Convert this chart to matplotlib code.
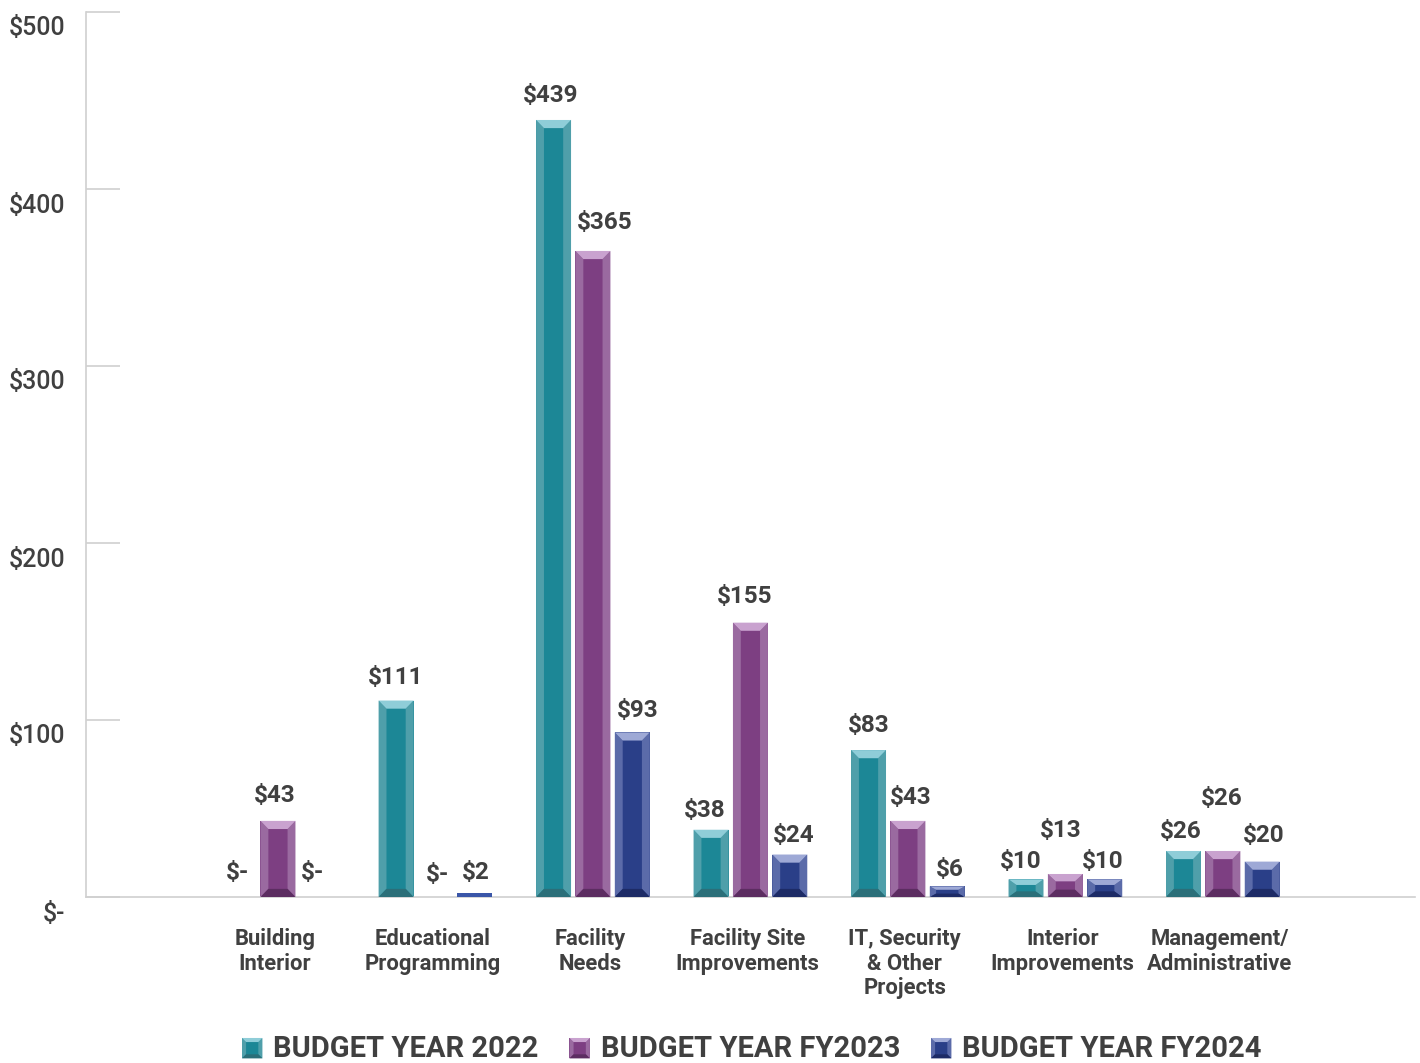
import numpy as np
import matplotlib
matplotlib.use('Agg')
import matplotlib.pyplot as plt
from matplotlib.patches import Polygon, Rectangle
from matplotlib.legend_handler import HandlerBase
from matplotlib.transforms import ScaledTranslation

plt.rcParams['font.family'] = ['Roboto', 'DejaVu Sans']

# data (millions)
categories = ["Building\nInterior", "Educational\nProgramming", "Facility\nNeeds",
              "Facility Site\nImprovements", "IT, Security\n& Other\nProjects",
              "Interior\nImprovements", "Management/\nAdministrative"]
series_names = ["BUDGET YEAR 2022", "BUDGET YEAR FY2023", "BUDGET YEAR FY2024"]
budget_2022 = [0, 111, 439, 38, 83, 10, 26]
budget_fy2023 = [43, 0, 365, 155, 43, 13, 26]
budget_fy2024 = [0, 2, 93, 24, 6, 10, 20]
y_ticks = [0, 100, 200, 300, 400, 500]
y_ticklabels = ["$-", "$100", "$200", "$300", "$400", "$500"]

# label nudges in pixels (dx, dy above bar top), per series
label_nudge = [
    [(-1, 27), (0, 25), (-3, 26), (-6, 21), (0, 27), (-5, 20), (-3, 21)],
    [(-3, 27), (2, 24), (12, 30), (-6, 28), (3, 25), (-5, 45), (-1, 54)],
    [(-5, 27), (1, 23), (5, 24), (4, 21), (3, 19), (-2, 20), (1, 28)],
]

# face, left/right side, top, bottom
palettes = [
    dict(face='#1c8796', side='#4f9faa', top='#8fcdd8', bottom='#2b6f79'),
    dict(face='#7d3f82', side='#9a6aa0', top='#c9a2cf', bottom='#5c2d61'),
    dict(face='#2a3f88', side='#5b6ba9', top='#9ea9d6', bottom='#1d2b66'),
]
text_color = '#404040'
axis_color = '#d0d0d0'


def draw_bevel(ax, x0, y0, w, h, pal, bx, by_max):
    if h <= 0:
        return
    x1, y1 = x0 + w, y0 + h
    if h < 2.5:
        ax.add_patch(Rectangle((x0, y0), w, h, color='#3a56a8', lw=0, zorder=3))
        return
    by = min(by_max, h * 0.32)
    bxx = bx if h >= 2 * by_max else bx * 0.8
    ix0, ix1, iy0, iy1 = x0 + bxx, x1 - bxx, y0 + by, y1 - by
    polys = [
        ([(x0, y0), (ix0, iy0), (ix0, iy1), (x0, y1)], pal['side']),
        ([(x1, y0), (x1, y1), (ix1, iy1), (ix1, iy0)], pal['side']),
        ([(x0, y1), (x1, y1), (ix1, iy1), (ix0, iy1)], pal['top']),
        ([(x0, y0), (x1, y0), (ix1, iy0), (ix0, iy0)], pal['bottom']),
    ]
    for pts, c in polys:
        ax.add_patch(Polygon(pts, closed=True, facecolor=c, edgecolor='none', zorder=3))


class BevelHandler(HandlerBase):
    def __init__(self, pal):
        super().__init__()
        self.pal = pal

    def create_artists(self, legend, orig_handle, xdescent, ydescent, width, height, fontsize, trans):
        s = min(width, height * 1.3)
        x0, y0 = -xdescent + (width - s) / 2, -ydescent + (height - s) / 2 - 1
        b = s * 0.2
        x1, y1 = x0 + s, y0 + s
        ix0, ix1, iy0, iy1 = x0 + b, x1 - b, y0 + b, y1 - b
        arts = [Rectangle((x0, y0), s, s, facecolor=self.pal['face'], edgecolor='none')]
        for pts, c in [
            ([(x0, y0), (ix0, iy0), (ix0, iy1), (x0, y1)], self.pal['side']),
            ([(x1, y0), (x1, y1), (ix1, iy1), (ix1, iy0)], self.pal['side']),
            ([(x0, y1), (x1, y1), (ix1, iy1), (ix0, iy1)], self.pal['top']),
            ([(x0, y0), (x1, y0), (ix1, iy0), (ix0, iy0)], self.pal['bottom']),
        ]:
            arts.append(Polygon(pts, closed=True, facecolor=c, edgecolor='none'))
        for a in arts:
            a.set_transform(trans)
        return arts


fig = plt.figure(figsize=(14.2, 10.63), dpi=100)
ax = fig.add_axes([86 / 1420, 1 - 897 / 1063, (1415 - 86) / 1420, 885 / 1063])

x = np.arange(len(categories))
width = 0.222
step = 0.25
all_series = [budget_2022, budget_fy2023, budget_fy2024]

handles = []
for i, (vals, pal) in enumerate(zip(all_series, palettes)):
    bars = ax.bar(x + (i - 1) * step, vals, width, color=pal['face'], zorder=2,
                  label=series_names[i])
    handles.append(bars)
    for j, (rect, v) in enumerate(zip(bars.patches, vals)):
        draw_bevel(ax, rect.get_x(), rect.get_y(), rect.get_width(), rect.get_height(),
                   pal, 0.05, 4.6)
        lab = "$-" if v == 0 else f"${v}"
        dx, dy = label_nudge[i][j]
        ax.annotate(lab, (rect.get_x() + rect.get_width() / 2, v), xytext=(dx, dy - 2),
                    textcoords='offset pixels', ha='center', va='center',
                    fontsize=17.5, fontweight='bold', color=text_color, zorder=5)

ax.set_xlim(-1.219, 7.22)
ax.set_ylim(0, 500)
ax.set_yticks(y_ticks)
ax.set_yticklabels(y_ticklabels)
ax.set_xticks(x - 0.02)
ax.set_xticklabels(categories, fontsize=15.8, fontweight='bold', color=text_color,
                   linespacing=1.14, va='top')
ax.tick_params(axis='x', length=0, pad=22.5)
ax.tick_params(axis='y', direction='in', length=24.5, width=1.2, color=axis_color,
               labelsize=18, labelcolor=text_color, pad=15)
for t in ax.get_yticklabels():
    t.set_fontweight('medium')
off = ScaledTranslation(0, -14 / 100, fig.dpi_scale_trans)
for t in ax.get_yticklabels():
    t.set_transform(t.get_transform() + off)

for s in ['top', 'right']:
    ax.spines[s].set_visible(False)
for s in ['left', 'bottom']:
    ax.spines[s].set_color(axis_color)
    ax.spines[s].set_linewidth(1.2)

fig.legend(handles, series_names, loc='center', bbox_to_anchor=(752 / 1420, 1 - 1049 / 1063),
           ncol=3, frameon=False, handler_map={h: BevelHandler(p) for h, p in zip(handles, palettes)},
           prop=dict(size=21, weight='bold'), labelcolor=text_color,
           handlelength=0.7, handleheight=0.7, handletextpad=0.38, columnspacing=1.05)

fig.savefig('out.png', dpi=100)
